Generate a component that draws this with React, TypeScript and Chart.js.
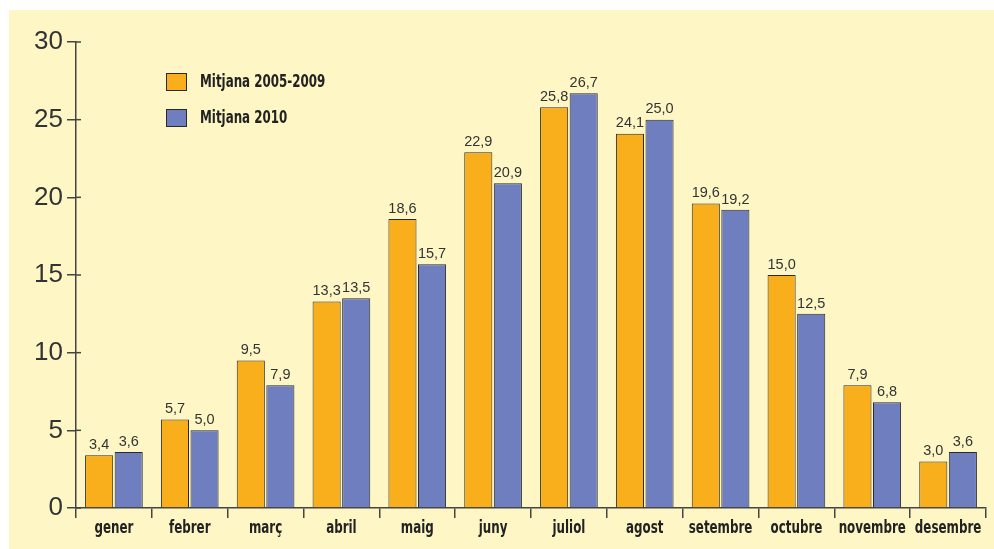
import React, { useEffect, useRef } from "react";
import { Chart, registerables } from "chart.js";
Chart.register(...registerables);

const categories = ["gener", "febrer", "març", "abril", "maig", "juny", "juliol", "agost", "setembre", "octubre", "novembre", "desembre"];
const series1Label = "Mitjana 2005-2009";
const series2Label = "Mitjana 2010";
const series1 = [3.4, 5.7, 9.5, 13.3, 18.6, 22.9, 25.8, 24.1, 19.6, 15.0, 7.9, 3.0];
const series2 = [3.6, 5.0, 7.9, 13.5, 15.7, 20.9, 26.7, 25.0, 19.2, 12.5, 6.8, 3.6];
const yTicks = [0, 5, 10, 15, 20, 25, 30];

const ORANGE = "#F9AE1B";
const BLUE = "#6E7EBF";
const BORDER = "#2a2a2a";
const TEXT = "#333333";
const BOLD = "bold 18px 'DejaVu Sans', sans-serif";
const SQUEEZE = 0.66;

const fmt = (v: number) => v.toFixed(1).replace(".", ",");

function condensedText(ctx: CanvasRenderingContext2D, text: string, x: number, y: number, align: "left" | "center") {
  ctx.save();
  ctx.translate(x, y);
  ctx.scale(SQUEEZE, 1);
  ctx.textAlign = align;
  ctx.fillText(text, 0, 0);
  ctx.restore();
}

const customPlugin = {
  id: "custom",
  afterDatasetsDraw(chart: any) {
    const ctx = chart.ctx;
    ctx.save();
    // value labels
    ctx.font = "14.5px 'Liberation Sans', Arial, sans-serif";
    ctx.fillStyle = TEXT;
    ctx.textAlign = "center";
    ctx.textBaseline = "bottom";
    chart.data.datasets.forEach((ds: any, i: number) => {
      const meta = chart.getDatasetMeta(i);
      meta.data.forEach((bar: any, j: number) => {
        ctx.fillText(fmt(ds.data[j]), bar.x, bar.y - 3);
      });
    });
    // inner y ticks
    const y = chart.scales.y;
    const left = chart.chartArea.left;
    ctx.strokeStyle = "#444";
    ctx.lineWidth = 1.5;
    yTicks.forEach((t) => {
      const py = y.getPixelForValue(t);
      ctx.beginPath();
      ctx.moveTo(left, py);
      ctx.lineTo(left + 5, py);
      ctx.stroke();
    });
    // category labels
    const x = chart.scales.x;
    ctx.font = BOLD;
    ctx.fillStyle = "#222";
    ctx.textBaseline = "middle";
    categories.forEach((c, i) => {
      condensedText(ctx, c, x.getPixelForValue(i), chart.chartArea.bottom + 20, "center");
    });
    // legend
    const items = [
      { label: chart.data.datasets[0].label, color: ORANGE, y: 63 },
      { label: chart.data.datasets[1].label, color: BLUE, y: 99 },
    ];
    ctx.textBaseline = "middle";
    items.forEach((it) => {
      ctx.fillStyle = it.color;
      ctx.fillRect(157, it.y, 20, 17);
      ctx.strokeStyle = BORDER;
      ctx.lineWidth = 1;
      ctx.strokeRect(157.5, it.y + 0.5, 20, 17);
      ctx.fillStyle = "#222";
      ctx.font = BOLD;
      condensedText(ctx, it.label, 191, it.y + 9, "left");
    });
    ctx.restore();
  },
};

export default function App() {
  const ref = useRef<HTMLCanvasElement>(null);
  useEffect(() => {
    if (!ref.current) return;
    const chart = new Chart(ref.current, {
      type: "bar",
      data: {
        labels: categories,
        datasets: [
          { label: series1Label, data: series1, backgroundColor: ORANGE, borderColor: BORDER, borderWidth: 1 },
          { label: series2Label, data: series2, backgroundColor: BLUE, borderColor: BORDER, borderWidth: 1 },
        ],
      },
      options: {
        animation: false,
        responsive: false,
        maintainAspectRatio: false,
        categoryPercentage: 0.78,
        barPercentage: 0.95,
        layout: { padding: { left: 0, right: 8, top: 32, bottom: 0 } },
        plugins: { legend: { display: false }, tooltip: { enabled: false } },
        scales: {
          x: {
            grid: { display: true, drawOnChartArea: false, offset: true, tickLength: 10, color: "#444", lineWidth: 1.5 },
            border: { display: true, color: "#444", width: 1.5 },
            ticks: { display: false, maxRotation: 0, autoSkip: false },
            afterFit: (s: any) => { s.height = 41; },
          },
          y: {
            min: 0,
            max: 30,
            afterBuildTicks: (s: any) => { s.ticks = yTicks.map((v) => ({ value: v })); },
            grid: { display: true, drawOnChartArea: false, tickLength: 9, color: "#444", lineWidth: 1.5 },
            border: { display: true, color: "#444", width: 1.5 },
            ticks: { color: TEXT, font: { family: "'Liberation Sans', Arial, sans-serif", size: 26 }, padding: 4 },
            afterFit: (s: any) => { s.width = 67; },
          },
        },
      },
      plugins: [customPlugin],
    });
    return () => chart.destroy();
  }, []);
  return (
    <div style={{ position: "absolute", left: 9, top: 10, width: 985, height: 539, background: "#FEF7C5" }}>
      <canvas ref={ref} width={985} height={539} style={{ display: "block" }} />
    </div>
  );
}
